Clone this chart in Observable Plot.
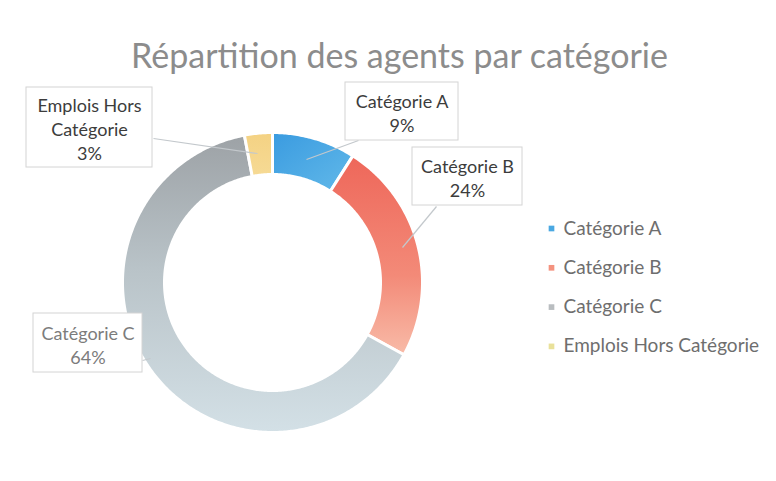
<!DOCTYPE html>
<html><head><meta charset="utf-8">
<script src="https://cdn.jsdelivr.net/npm/d3@7"></script>
<script src="https://cdn.jsdelivr.net/npm/@observablehq/plot@0.6"></script>
<style>body{margin:0;background:#fff;}</style>
</head><body><div id="chart"></div>
<script>
// ---- data ----
const title = "Répartition des agents par catégorie";
const categories = ["Catégorie A", "Catégorie B", "Catégorie C", "Emplois Hors Catégorie"];
const values = [9, 24, 64, 3];
const labelNames = ["Catégorie A", "Catégorie B", "Catégorie C", "Emplois Hors\nCatégorie"];

// ---- style / layout ----
const W = 776, H = 481, CX = 272, CY = 282, R_OUT = 150, R_IN = 108;
const X = px => (px - CX) / R_OUT;
const Y = py => (CY - py) / R_OUT;
const gradients = [
  {id: "gA", x2: 1, y2: 1, stops: [[0, "#3a9be0"], [1, "#62b9e9"]]},
  {id: "gB", x2: 0, y2: 1, stops: [[0, "#ee675a"], [0.6, "#f38a78"], [1, "#f8bba8"]]},
  {id: "gC", x2: 0, y2: 1, stops: [[0, "#9da2a6"], [0.45, "#b9c3c8"], [1, "#d3e0e6"]]},
  {id: "gE", x2: 0, y2: 1, stops: [[0, "#f4d283"], [1, "#f6da95"]]}
];
const legendColors = ["#4aa8e2", "#f4927f", "#b9bdc0", "#e9e19a"];
const labelBoxes = [ // pixel layout of callout boxes
  {x1: 345, x2: 458, y1: 82, y2: 140, color: "#3c3c3c"},
  {x1: 412, x2: 522, y1: 147, y2: 205, color: "#3c3c3c"},
  {x1: 33, x2: 142, y1: 313, y2: 372, color: "#7c7c7c"},
  {x1: 26, x2: 152, y1: 87, y2: 167, color: "#3c3c3c"}
];
const leaders = [
  {x1: 306, y1: 159, x2: 358, y2: 140},
  {x1: 402, y1: 247, x2: 436, y2: 206},
  {x1: 142, y1: 360, x2: 150, y2: 358},
  {x1: 257, y1: 153, x2: 153, y2: 138}
];
const legendX = 551, legendY0 = 228, legendStep = 39.3;

// ---- geometry from data ----
const total = d3.sum(values);
let cum = 0;
const slices = categories.map((c, i) => {
  const a0 = cum / total * 2 * Math.PI; cum += values[i];
  const a1 = cum / total * 2 * Math.PI;
  return {c, i, a0, a1, v: values[i]};
});
const rin = R_IN / R_OUT;
function ring(s) {
  const n = Math.max(8, Math.ceil((s.a1 - s.a0) * 90));
  const pts = [];
  for (let k = 0; k <= n; k++) { const t = s.a0 + (s.a1 - s.a0) * k / n; pts.push({x: Math.sin(t), y: Math.cos(t)}); }
  for (let k = n; k >= 0; k--) { const t = s.a0 + (s.a1 - s.a0) * k / n; pts.push({x: rin * Math.sin(t), y: rin * Math.cos(t)}); }
  return pts;
}

const labels = slices.map((s, i) => {
  const b = labelBoxes[i];
  return {
    text: `${labelNames[i]}\n${values[i]}%`,
    x: X((b.x1 + b.x2) / 2), y: Y((b.y1 + b.y2) / 2 + 1),
    x1: X(b.x1), x2: X(b.x2), y1: Y(b.y1), y2: Y(b.y2), color: b.color
  };
});
const leaderData = leaders.map(l => ({x1: X(l.x1), y1: Y(l.y1), x2: X(l.x2), y2: Y(l.y2)}));
const legend = categories.map((c, i) => ({c, x: X(legendX), tx: X(legendX + 12), y: Y(legendY0 + i * legendStep), color: legendColors[i]}));

const svg = Plot.plot({
  width: W, height: H,
  margin: 0,
  x: {domain: [X(0), X(W)], range: [0, W], axis: null},
  y: {domain: [Y(H), Y(0)], range: [H, 0], axis: null},
  style: {fontFamily: "Lato, 'Open Sans', sans-serif", background: "#fff"},
  marks: [
    ...slices.map((s, i) => Plot.line(ring(s), {
      x: "x", y: "y", fill: `url(#${gradients[i].id})`, stroke: "white", strokeWidth: 3, curve: "linear-closed"
    })),
    Plot.link(leaderData, {x1: "x1", y1: "y1", x2: "x2", y2: "y2", stroke: "#c3c8cc", strokeWidth: 1.2}),
    Plot.rect(labels, {x1: "x1", x2: "x2", y1: "y1", y2: "y2", fill: "white", stroke: "#d4d4d4", strokeWidth: 1}),
    Plot.text(labels, {x: "x", y: "y", text: "text", fill: d => d.color, fontSize: 18, lineHeight: 1.33, textAnchor: "middle", lineAnchor: "middle"}),
    Plot.dot(legend, {x: "x", y: "y", symbol: "square", r: 3.2, fill: "color", stroke: null}),
    Plot.text(legend, {x: "tx", y: "y", text: "c", fill: "#6e6e6e", fontSize: 19, textAnchor: "start"}),
    Plot.text([title], {x: X(399), y: Y(57), text: d => d, fill: "#8c8c8c", fontSize: 34, textAnchor: "middle"})
  ]
});

const ns = "http://www.w3.org/2000/svg";
const defs = document.createElementNS(ns, "defs");
gradients.forEach(g => {
  const lg = document.createElementNS(ns, "linearGradient");
  lg.setAttribute("id", g.id);
  lg.setAttribute("x1", 0); lg.setAttribute("y1", 0);
  lg.setAttribute("x2", g.x2); lg.setAttribute("y2", g.y2);
  g.stops.forEach(([o, c]) => {
    const st = document.createElementNS(ns, "stop");
    st.setAttribute("offset", o); st.setAttribute("stop-color", c);
    lg.appendChild(st);
  });
  defs.appendChild(lg);
});
svg.insertBefore(defs, svg.firstChild);
document.getElementById("chart").appendChild(svg);
</script>
</body></html>
